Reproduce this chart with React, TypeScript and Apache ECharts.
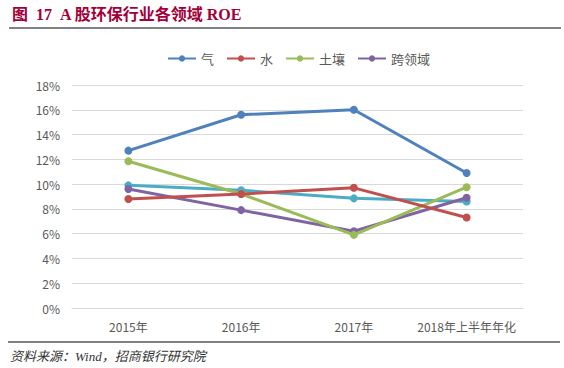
import React, { useEffect, useRef } from "react";
import * as echarts from "echarts";

const categories = ["2015年", "2016年", "2017年", "2018年上半年年化"];
const seriesNames = ["气", "水", "土壤", "跨领域", "其他"];
const gasValues = [12.7, 15.6, 16.0, 10.9];
const waterValues = [8.8, 9.2, 9.7, 7.3];
const soilValues = [11.85, 9.2, 5.9, 9.75];
const crossValues = [9.6, 7.9, 6.2, 8.9];
const otherValues = [9.9, 9.5, 8.85, 8.6];
const colors = ["#4f81bd", "#c0504d", "#9bbb59", "#8064a2", "#4bacc6"];
const yTicks = { min: 0, max: 18, interval: 2 };

export default function App() {
  const ref = useRef<HTMLDivElement>(null);
  useEffect(() => {
    if (!ref.current) return;
    const chart = echarts.init(ref.current, null, { renderer: "svg" });
    const data = [gasValues, waterValues, soilValues, crossValues, otherValues];
    chart.setOption({
      animation: false,
      backgroundColor: "#ffffff",
      grid: { left: 72, right: 41, top: 85, bottom: 60 },
      legend: {
        data: seriesNames.slice(0, 4),
        top: 47,
        left: 162,
        itemWidth: 28,
        itemHeight: 8,
        itemGap: 12,
        textStyle: { color: "#595959", fontSize: 13, fontFamily: "Noto Sans CJK SC" },
      },
      graphic: [
        {
          type: "text",
          left: 12,
          top: 6,
          style: {
            text: "图  17  A 股环保行业各领域 ROE",
            fill: "#a3003a",
            font: "bold 16px 'Liberation Serif', 'Noto Sans CJK SC'",
          },
        },
        { type: "rect", shape: { x: 9, y: 27, width: 552, height: 2 }, style: { fill: "#808080" } },
        { type: "rect", shape: { x: 8, y: 341, width: 552, height: 2 }, style: { fill: "#808080" } },
        {
          type: "text",
          left: 10,
          top: 350,
          style: {
            text: "资料来源：Wind，招商银行研究院",
            fill: "#333333",
            font: "italic 13px 'Liberation Serif', 'Noto Sans CJK SC'",
          },
        },
      ],
      xAxis: {
        type: "category",
        data: categories,
        boundaryGap: true,
        axisLine: { show: true, lineStyle: { color: "#d9d9d9" } },
        axisTick: { show: false },
        axisLabel: { interval: 0, color: "#595959", fontSize: 12, margin: 12, fontFamily: "Noto Sans CJK SC" },
      },
      yAxis: {
        type: "value",
        min: yTicks.min,
        max: yTicks.max,
        interval: yTicks.interval,
        axisLine: { show: false },
        axisTick: { show: false },
        axisLabel: { formatter: "{value}%", color: "#595959", fontSize: 12, margin: 12, fontFamily: "Noto Sans CJK SC" },
        splitLine: { lineStyle: { color: "#d9d9d9", width: 1 } },
      },
      series: seriesNames.map((name, i) => ({
        name,
        type: "line",
        data: data[i],
        symbol: "circle",
        symbolSize: 8,
        itemStyle: { color: colors[i] },
        lineStyle: { color: colors[i], width: 3 },
        z: 10 - i,
      })),
    });
    return () => chart.dispose();
  }, []);
  return (
    <div
      ref={ref}
      style={{ position: "fixed", left: 0, top: 0, width: 564, height: 368 }}
    />
  );
}
